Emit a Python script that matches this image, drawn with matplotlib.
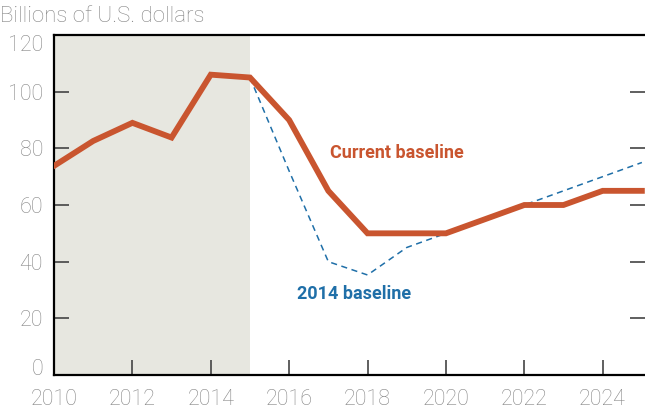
import matplotlib.pyplot as plt

# Data
years = list(range(2010, 2026))
current = [73.8, 82.6, 89, 83.8, 106, 105, 90, 65, 50, 50, 50, 55, 60, 60, 65, 65]
years_2014 = list(range(2015, 2026))
baseline_2014 = [105, 72, 40, 35.3, 45, 50, 55, 60, 65, 70, 75]

orange = "#C9552F"
blue = "#1F6FA8"
grey_txt = "#858585"

plt.rcParams["font.family"] = ["Roboto", "DejaVu Sans"]

fig = plt.figure(figsize=(6.45, 4.11), dpi=100)
ax = fig.add_axes([54 / 645, 1 - 375 / 411, 1 - 54 / 645, 340 / 411])

# history shading
ax.axvspan(2010, 2015, color="#E7E7E0", lw=0, zorder=0)

ax.plot(years_2014, baseline_2014, color=blue, lw=1.1, ls=(0, (4, 3)), zorder=2)
ax.plot(years, current, color=orange, lw=4.2, solid_joinstyle="miter", zorder=3)

ax.text(2017.05, 78.4, "Current baseline", color=orange, fontsize=13,
        fontweight="bold", ha="left", va="center")
ax.text(2016.2, 28.6, "2014 baseline", color=blue, fontsize=13,
        fontweight="bold", ha="left", va="center")

ax.set_xlim(2010, 2025.08)
ax.set_ylim(0, 120)
ax.set_xticks(range(2010, 2026, 2))
ax.set_yticks(range(0, 121, 20))

ax.spines["right"].set_visible(False)
for s in ["left", "bottom", "top"]:
    ax.spines[s].set_linewidth(1.6)
    ax.spines[s].set_color("black")

ax.tick_params(axis="both", direction="in", length=11, width=1.2,
               color="#444444", labelsize=15.5, labelcolor=grey_txt)
ax.tick_params(axis="y", right=True, pad=8)
ax.tick_params(axis="x", pad=10)
for lbl in ax.get_xticklabels() + ax.get_yticklabels():
    lbl.set_fontweight("light")

# end labels pulled inside the axis range, as in the original
ylabels = ax.get_yticklabels()
ylabels[0].set_va("baseline")
ylabels[-1].set_va("top")

# hide ticks that sit on the spines
ax.xaxis.get_major_ticks()[0].tick1line.set_visible(False)
for i in [0, -1]:
    t = ax.yaxis.get_major_ticks()[i]
    t.tick1line.set_visible(False)
    t.tick2line.set_visible(False)

fig.text(0.0, 1 - 17 / 411, "Billions of U.S. dollars", color=grey_txt,
         fontsize=16, fontweight="light", ha="left", va="center")

fig.savefig("out.png", dpi=100)
